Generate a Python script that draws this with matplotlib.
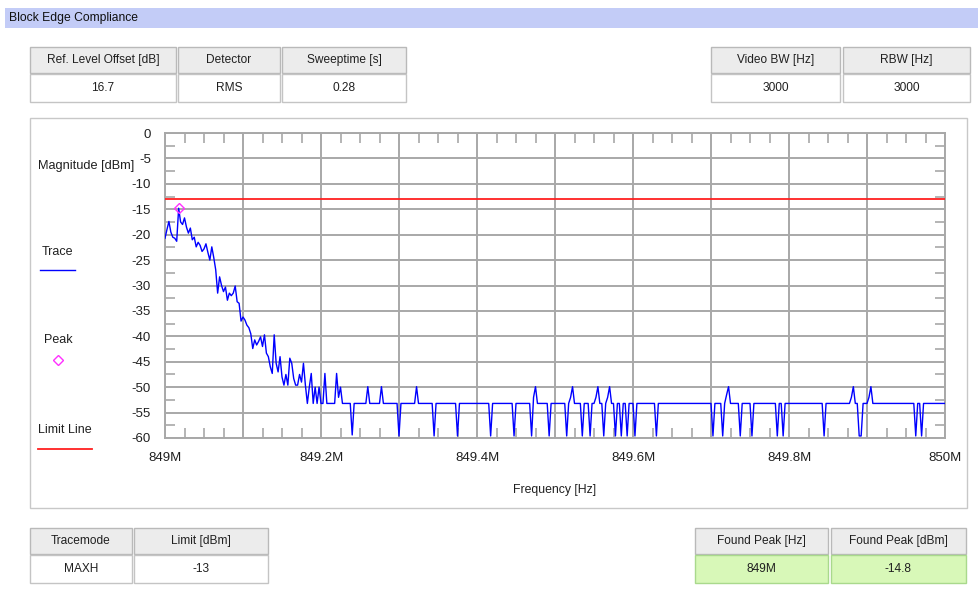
import matplotlib
matplotlib.use("Agg")
import matplotlib.pyplot as plt
from matplotlib.patches import Rectangle
from matplotlib.lines import Line2D
from matplotlib.ticker import MultipleLocator

plt.rcParams['font.family'] = ['Liberation Sans', 'DejaVu Sans']
plt.rcParams['axes.unicode_minus'] = False

W, H = 979, 606

# trace vertices: frequency offset from 849 MHz in kHz, level in dBm
trace_khz = [
    0, 2.5, 5, 7.5, 10, 12.5, 15, 17.5, 20, 22.5,
    25, 27.5, 30, 32.5, 35, 37.5, 40, 42.5, 45, 47.5,
    50, 52.5, 55, 57.5, 60, 62.5, 65, 67.5, 70, 72.5,
    75, 77.5, 80, 82.5, 85, 87.5, 90, 92.5, 95, 97.5,
    100, 102.5, 105, 107.5, 110, 112.5, 115, 117.5, 120, 122.5,
    125, 127.5, 130, 132.5, 135, 137.5, 140, 142.5, 145, 147.5,
    150, 152.5, 155, 157.5, 160, 162.5, 165, 167.5, 170, 172.5,
    175, 177.5, 180, 182.5, 185, 187.5, 190, 192.5, 195, 197.5,
    200, 202.5, 205, 207.5,
    217.5, 220, 222.5, 225, 227.5,
    237.5, 240, 242.5,
    257.5, 260, 262.5,
    275, 277.5, 280,
    297.5, 300, 302.5,
    320, 322.5, 325,
    342.5, 345, 347.5,
    372.5, 375, 377.5,
    415, 417.5, 420,
    445, 447.5, 450,
    467.5, 470, 472.5, 475, 477.5,
    490, 492.5, 495,
    512.5, 515, 517.5, 520, 522.5, 525,
    532.5, 535, 537.5,
    542.5, 545, 547.5,
    550, 552.5, 555, 557.5,
    560, 562.5, 565, 567.5, 570, 572.5,
    575, 577.5, 580,
    582.5, 585, 587.5,
    590, 592.5, 595,
    600, 602.5, 605,
    627.5, 630, 632.5,
    700, 702.5, 705,
    712.5, 715, 717.5, 720, 722.5, 725,
    735, 737.5, 740,
    750, 752.5, 755,
    782.5, 785, 787.5, 790, 792.5, 795,
    842.5, 845, 847.5,
    877.5, 880, 882.5, 885,
    887.5, 890, 892.5, 895,
    900, 902.5, 905, 907.5,
    960, 962.5, 965, 967.5, 970, 972.5,
    1000,
]
trace_dbm = [
    -20.7, -19.0, -17.4, -19.5, -20.5, -20.7, -21.3, -14.8, -17.5, -18.0,
    -16.7, -18.5, -19.7, -18.7, -21.0, -20.5, -22.4, -21.5, -22.1, -23.3,
    -22.8, -21.8, -23.5, -25.0, -22.4, -24.5, -26.9, -31.5, -28.3, -30.0,
    -31.2, -30.3, -32.9, -31.5, -32.0, -31.5, -30.1, -33.2, -33.5, -37.0,
    -36.2, -36.8, -37.8, -38.3, -39.5, -42.4, -40.7, -41.7, -41.0, -40.1,
    -42.0, -39.7, -43.3, -44.0, -46.0, -47.3, -39.7, -45.3, -47.0, -44.0,
    -48.0, -49.6, -47.5, -49.6, -44.3, -45.3, -48.3, -49.6, -49.6, -47.5,
    -49.0, -45.3, -49.6, -53.2, -50.0, -47.3, -53.2, -50.0, -53.2, -50.0,
    -53.2, -53.2, -47.3, -53.2,
    -53.2, -47.3, -52.0, -50.0, -53.2,
    -53.2, -59.4, -53.2,
    -53.2, -49.9, -53.2,
    -53.2, -49.9, -53.2,
    -53.2, -59.6, -53.2,
    -53.2, -49.9, -53.2,
    -53.2, -59.6, -53.2,
    -53.2, -59.6, -53.2,
    -53.2, -59.6, -53.2,
    -53.2, -59.6, -53.2,
    -53.2, -59.6, -52.0, -49.9, -53.2,
    -53.2, -59.6, -53.2,
    -53.2, -59.6, -53.2, -52.0, -49.9, -53.2,
    -53.2, -59.6, -53.2,
    -53.2, -59.6, -53.2,
    -53.2, -52.0, -49.9, -53.2,
    -53.2, -59.6, -53.2, -52.0, -49.9, -53.2,
    -53.2, -59.6, -53.2,
    -53.2, -59.6, -53.2,
    -53.2, -59.6, -53.2,
    -53.2, -59.6, -53.2,
    -53.2, -59.6, -53.2,
    -53.2, -59.6, -53.2,
    -53.2, -59.6, -53.2, -51.5, -49.9, -53.2,
    -53.2, -59.6, -53.2,
    -53.2, -59.6, -53.2,
    -53.2, -59.6, -53.2, -53.2, -59.6, -53.2,
    -53.2, -59.6, -53.2,
    -53.2, -52.0, -49.9, -53.2,
    -53.2, -59.6, -59.6, -53.2,
    -53.2, -52.0, -49.9, -53.2,
    -53.2, -59.6, -53.2, -53.2, -59.6, -53.2,
    -53.2,
]

limit_dbm = -13
peak_khz = 17.5
peak_dbm = -14.8

xtick_mhz = [849.0, 849.2, 849.4, 849.6, 849.8, 850.0]
xtick_labels = ['849M', '849.2M', '849.4M', '849.6M', '849.8M', '850M']

top_left_headers = ['Ref. Level Offset [dB]', 'Detector', 'Sweeptime [s]']
top_left_values = ['16.7', 'RMS', '0.28']
top_right_headers = ['Video BW [Hz]', 'RBW [Hz]']
top_right_values = ['3000', '3000']
bottom_left_headers = ['Tracemode', 'Limit [dBm]']
bottom_left_values = ['MAXH', '-13']
bottom_right_headers = ['Found Peak [Hz]', 'Found Peak [dBm]']
bottom_right_values = ['849M', '-14.8']


def fx(x):
    return x / W


def fy(y):
    return 1 - y / H


def rect(fig, x0, y0, x1, y1, fc, ec, lw=1.0):
    fig.patches.append(Rectangle((fx(x0), fy(y1)), fx(x1) - fx(x0), fy(y0) - fy(y1),
                                 transform=fig.transFigure, facecolor=fc,
                                 edgecolor=ec, linewidth=lw, zorder=-5))


def table(fig, lefts, rights, headers, values, y0, value_fc='white', value_ec='#c4c4c4'):
    for x0, x1, h, v in zip(lefts, rights, headers, values):
        rect(fig, x0, y0, x1, y0 + 26, '#ececec', '#b9b9b9')
        rect(fig, x0, y0 + 27, x1, y0 + 55, value_fc, value_ec)
        fig.text(fx((x0 + x1) / 2), fy(y0 + 13), h, ha='center', va='center', fontsize=8.6, color='#202020')
        fig.text(fx((x0 + x1) / 2), fy(y0 + 41), v, ha='center', va='center', fontsize=8.6, color='#202020')


fig = plt.figure(figsize=(W / 100, H / 100), dpi=100)
fig.patch.set_facecolor('white')

# title bar
rect(fig, 5, 8, 979, 28, '#c3ccf7', 'none')
fig.text(fx(9), fy(18), 'Block Edge Compliance', ha='left', va='center', fontsize=8.7, color='#101010')

# chart panel
rect(fig, 30, 118, 967, 508, 'white', '#c8c8c8')

table(fig, [30, 178, 282], [176, 280, 406], top_left_headers, top_left_values, 47)
table(fig, [711, 843], [840, 970], top_right_headers, top_right_values, 47)
table(fig, [30, 134], [132, 268], bottom_left_headers, bottom_left_values, 528)
table(fig, [695, 831], [828, 966], bottom_right_headers, bottom_right_values, 528,
      value_fc='#d8f8b8', value_ec='#a9d98c')

ax = fig.add_axes([fx(165), fy(438), fx(945) - fx(165), fy(133) - fy(438)], zorder=2)
ax.set_facecolor('white')

freq_mhz = [849 + k / 1000 for k in trace_khz]
ax.plot(freq_mhz, trace_dbm, color='#0000ff', linewidth=1.0, zorder=3)
ax.axhline(limit_dbm, color='#ff2020', linewidth=1.3, zorder=4)
ax.plot([849 + peak_khz / 1000], [peak_dbm], marker='D', markersize=5,
        markerfacecolor='none', markeredgecolor='#ff30ff', markeredgewidth=1.0, zorder=5,
        clip_on=False)

ax.set_xlim(849.0, 850.0)
ax.set_ylim(-60, 0)
ax.xaxis.set_minor_locator(MultipleLocator(0.025))
ax.yaxis.set_major_locator(MultipleLocator(5))
ax.yaxis.set_minor_locator(MultipleLocator(2.5))
ax.set_xticks([849 + k * 0.1 for k in range(11)])
ax.set_xticklabels(['' for _ in range(11)])
ax.grid(True, which='major', color='#a8a8a8', linewidth=1.4, zorder=1)
ax.set_axisbelow(True)

for m, lab in zip(xtick_mhz, xtick_labels):
    ax.text(m, -62.8, lab, ha='center', va='top', fontsize=9.5, color='#202020')
ax.tick_params(axis='x', which='major', length=0, pad=6)
ax.tick_params(axis='both', which='minor', direction='in', length=7, width=1.2,
               color='#a8a8a8', top=True, bottom=True, left=True, right=True)
ax.tick_params(axis='y', which='major', length=0, labelsize=9.5, labelcolor='#202020', pad=10)
for s in ax.spines.values():
    s.set_color('#a8a8a8')
    s.set_linewidth(1.4)

fig.text(fx(555), fy(490), 'Frequency [Hz]', ha='center', va='center', fontsize=8.8, color='#202020')
fig.text(fx(38), fy(166), 'Magnitude [dBm]', ha='left', va='center', fontsize=9.2, color='#202020')

# legend on the left
fig.text(fx(42), fy(252), 'Trace', ha='left', va='center', fontsize=9, color='#202020')
fig.add_artist(Line2D([fx(40), fx(75)], [fy(270), fy(270)], color='#0000ff', linewidth=1.0))
fig.text(fx(44), fy(340), 'Peak', ha='left', va='center', fontsize=9, color='#202020')
fig.add_artist(Line2D([fx(58)], [fy(360)], marker='D', markersize=5, markerfacecolor='none',
                      markeredgecolor='#ff30ff', linestyle='none'))
fig.text(fx(38), fy(430), 'Limit Line', ha='left', va='center', fontsize=9, color='#202020')
fig.add_artist(Line2D([fx(38), fx(92)], [fy(449), fy(449)], color='#ff2020', linewidth=1.3))

fig.savefig('out.png', dpi=100)
